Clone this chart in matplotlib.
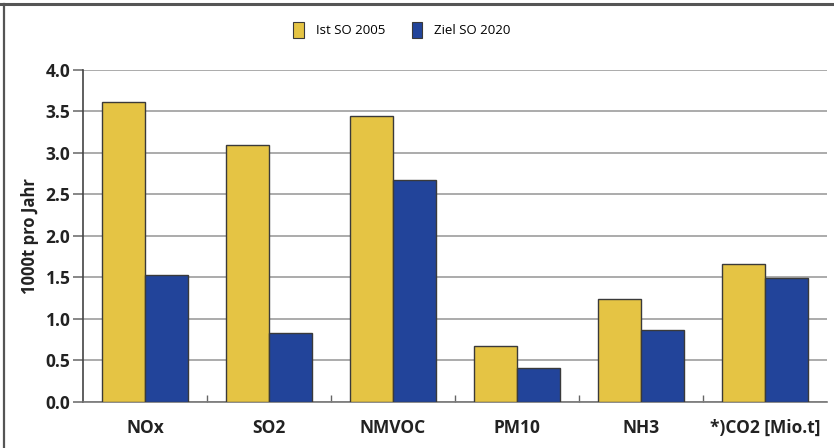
import matplotlib
matplotlib.use("Agg")
import matplotlib.pyplot as plt
from matplotlib.lines import Line2D
from matplotlib.patches import Patch
import numpy as np

categories = ["NOx", "SO2", "NMVOC", "PM10", "NH3", "*)CO2 [Mio.t]"]
ist_2005 = [3.62, 3.10, 3.44, 0.68, 1.24, 1.66]
ziel_2020 = [1.53, 0.83, 2.68, 0.41, 0.87, 1.49]
series_labels = ["Ist SO 2005", "Ziel SO 2020"]
y_ticks = [0.0, 0.5, 1.0, 1.5, 2.0, 2.5, 3.0, 3.5, 4.0]

yellow = "#E5C444"
blue = "#22449A"
edge = "#3a3a3a"
font = ["Open Sans", "DejaVu Sans"]

fig = plt.figure(figsize=(8.34, 4.48), dpi=100)
ax = fig.add_axes([0.0995, 0.1027, 0.8921, 0.7411])

x = np.arange(len(categories))
w = 0.35
ax.bar(x - w / 2, ist_2005, width=w, color=yellow, edgecolor=edge, linewidth=1.0, zorder=3)
ax.bar(x + w / 2, ziel_2020, width=w, color=blue, edgecolor=edge, linewidth=1.0, zorder=3)

ax.set_xlim(-0.5, len(categories) - 0.5)
ax.set_ylim(0, 4.0)
ax.set_yticks(y_ticks)
ax.set_yticklabels([f"{v:.1f}" for v in y_ticks], fontsize=12.5, fontweight="bold",
                   family=font, color="#222222")
ax.yaxis.grid(True, color="#959595", linewidth=1.1, zorder=0)
ax.tick_params(axis="y", length=7, width=1.1, color="#666666", pad=2)

ax.set_xticks(x)
ax.set_xticklabels(categories, fontsize=12.5, fontweight="bold", family=font, color="#222222")
ax.tick_params(axis="x", length=0, pad=12)
ax.set_xticks(np.arange(0.5, len(categories) - 0.5, 1.0), minor=True)
ax.tick_params(axis="x", which="minor", direction="in", length=5, width=1.0, color="#666666")

for side in ["top", "right"]:
    ax.spines[side].set_visible(False)
ax.spines["left"].set_color("#444444")
ax.spines["left"].set_linewidth(1.2)
ax.spines["bottom"].set_color("#777777")
ax.spines["bottom"].set_linewidth(1.2)

ax.set_ylabel("1000t pro Jahr", fontsize=12, fontweight="bold", family=font,
              color="#222222", labelpad=5)

handles = [Patch(facecolor=yellow, edgecolor=edge, linewidth=0.8),
           Patch(facecolor=blue, edgecolor=edge, linewidth=0.8)]
fig.legend(handles, series_labels, loc="center", bbox_to_anchor=(0.482, 0.933), ncol=2,
           frameon=False, prop={"family": font, "size": 9.5}, handlelength=0.8,
           handleheight=1.4, handletextpad=0.9, columnspacing=2.0)

# frame along the top and left edge of the figure
fig.add_artist(Line2D([0, 1], [1 - 4 / 448, 1 - 4 / 448], transform=fig.transFigure,
                      color="#555555", linewidth=2.2))
fig.add_artist(Line2D([4 / 834, 4 / 834], [0, 1 - 4 / 448], transform=fig.transFigure,
                      color="#555555", linewidth=1.6))

fig.savefig("out.png", dpi=100)
